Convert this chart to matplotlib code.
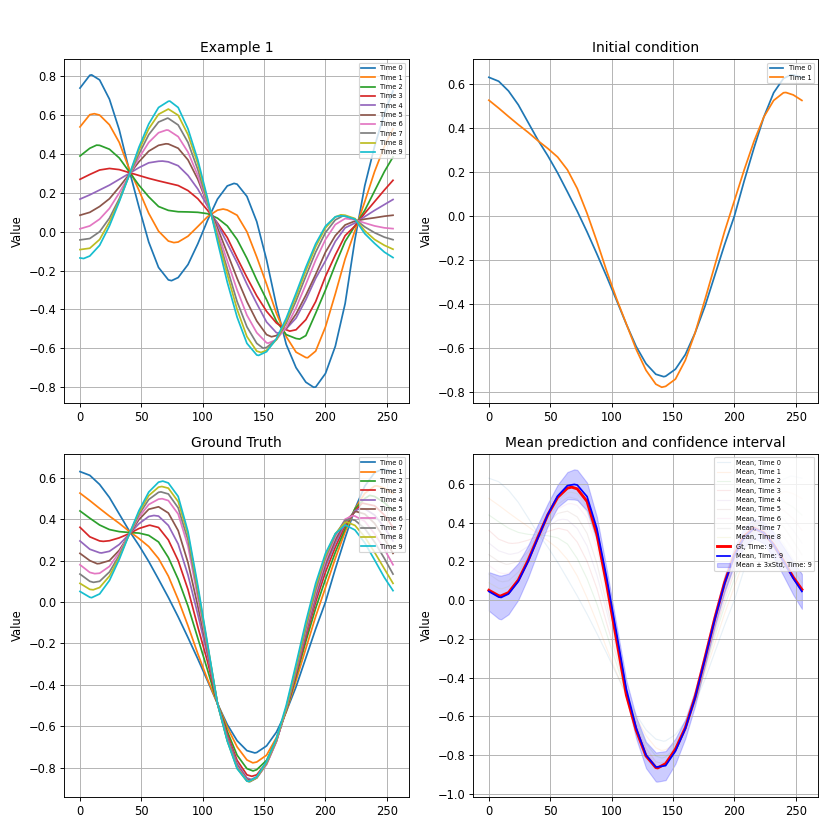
import matplotlib
matplotlib.use('Agg')
import matplotlib.pyplot as plt

# sample positions along the grid (0..255)
x = [0, 8, 16, 24, 32, 40, 48, 56, 64, 72, 80, 88, 96, 104, 112, 120, 128,
     136, 144, 152, 160, 168, 176, 184, 192, 200, 208, 216, 224, 232, 240, 248, 255]

# Example 1, Time 0..9
ex_t0 = [0.74, 0.806, 0.782, 0.683, 0.525, 0.32, 0.128, -0.053, -0.184, -0.248, -0.236, -0.169, -0.062, 0.06, 0.168, 0.236, 0.245,
         0.182, 0.052, -0.145, -0.38, -0.58, -0.70, -0.775, -0.80, -0.73, -0.59, -0.37, -0.04, 0.237, 0.44, 0.61, 0.725]
ex_t1 = [0.54, 0.603, 0.601, 0.551, 0.46, 0.325, 0.214, 0.095, 0.003, -0.048, -0.053, -0.023, 0.027, 0.078, 0.111, 0.112, 0.085,
         0.0, -0.13, -0.27, -0.42, -0.54, -0.62, -0.648, -0.615, -0.49, -0.32, -0.14, 0.005, 0.155, 0.31, 0.44, 0.53]
ex_t2 = [0.39, 0.43, 0.445, 0.425, 0.38, 0.31, 0.24, 0.18, 0.13, 0.11, 0.103, 0.102, 0.10, 0.093, 0.07, 0.03, -0.04,
         -0.137, -0.248, -0.35, -0.46, -0.53, -0.55, -0.535, -0.42, -0.30, -0.17, -0.05, 0.03, 0.11, 0.21, 0.31, 0.385]
ex_t3 = [0.27, 0.295, 0.318, 0.326, 0.32, 0.305, 0.29, 0.275, 0.262, 0.25, 0.238, 0.212, 0.17, 0.11, 0.045, -0.03, -0.135,
         -0.235, -0.33, -0.41, -0.47, -0.505, -0.505, -0.453, -0.36, -0.23, -0.12, -0.02, 0.03, 0.095, 0.155, 0.215, 0.265]
ex_t4 = [0.168, 0.19, 0.215, 0.24, 0.27, 0.30, 0.33, 0.355, 0.363, 0.36, 0.34, 0.29, 0.22, 0.13, 0.04, -0.06, -0.16,
         -0.27, -0.37, -0.465, -0.52, -0.50, -0.445, -0.35, -0.24, -0.15, -0.05, 0.02, 0.045, 0.078, 0.11, 0.14, 0.166]
ex_t5 = [0.085, 0.10, 0.13, 0.17, 0.23, 0.295, 0.36, 0.415, 0.445, 0.452, 0.43, 0.37, 0.27, 0.14, 0.02, -0.11, -0.24,
         -0.36, -0.46, -0.53, -0.535, -0.497, -0.424, -0.327, -0.22, -0.105, -0.02, 0.035, 0.055, 0.065, 0.072, 0.08, 0.085]
ex_t6 = [0.015, 0.03, 0.065, 0.12, 0.20, 0.29, 0.38, 0.46, 0.51, 0.523, 0.49, 0.41, 0.29, 0.14, 0.0, -0.15, -0.30,
         -0.43, -0.52, -0.572, -0.556, -0.492, -0.392, -0.271, -0.146, -0.04, 0.037, 0.068, 0.062, 0.045, 0.03, 0.02, 0.016]
ex_t7 = [-0.042, -0.035, 0.0, 0.07, 0.17, 0.29, 0.40, 0.50, 0.565, 0.584, 0.55, 0.46, 0.32, 0.15, -0.02, -0.19, -0.36,
         -0.49, -0.575, -0.596, -0.555, -0.471, -0.357, -0.229, -0.105, -0.004, 0.061, 0.08, 0.065, 0.025, -0.005, -0.028, -0.041]
ex_t8 = [-0.092, -0.085, -0.04, 0.05, 0.16, 0.29, 0.42, 0.53, 0.605, 0.632, 0.60, 0.50, 0.35, 0.16, -0.03, -0.22, -0.40,
         -0.54, -0.615, -0.611, -0.556, -0.458, -0.335, -0.201, -0.077, 0.02, 0.076, 0.085, 0.068, 0.005, -0.04, -0.07, -0.09]
ex_t9 = [-0.135, -0.125, -0.07, 0.03, 0.155, 0.29, 0.435, 0.555, 0.64, 0.672, 0.64, 0.53, 0.37, 0.17, -0.05, -0.26, -0.44,
         -0.575, -0.635, -0.618, -0.551, -0.446, -0.317, -0.183, -0.062, 0.029, 0.077, 0.08, 0.065, -0.01, -0.06, -0.105, -0.133]

ex_t0_turns = [(9.5, 0.808), (74.6, -0.252), (125.5, 0.249), (190.3, -0.801)]
ex_t1_turns = [(11.7, 0.608), (76.5, -0.056), (116.6, 0.117), (185.5, -0.649)]
ex_t2_turns = [(13.5, 0.446), (179, -0.553)]
ex_t3_turns = [(170.9, -0.512)]
ex_t4_turns = [(67.2, 0.364), (161.4, -0.522)]
ex_t5_turns = [(70, 0.453), (156, -0.541)]
ex_t6_turns = [(70.5, 0.524), (153.3, -0.574)]
ex_t7_turns = [(71.3, 0.585), (149.2, -0.6), (214, 0.081)]
ex_t8_turns = [(147.5, -0.622), (212.5, 0.087)]
ex_t9_turns = [(3, -0.138), (73.2, 0.673), (145.5, -0.637), (212, 0.082)]

# Ground truth, Time 0..9 (Time 0 and 1 are the initial condition)
gt_t0 = [0.63, 0.612, 0.568, 0.505, 0.425, 0.345, 0.274, 0.196, 0.11, 0.022, -0.072, -0.172, -0.275, -0.382, -0.491, -0.592, -0.67,
         -0.718, -0.727, -0.695, -0.629, -0.53, -0.41, -0.27, -0.13, 0.0, 0.16, 0.31, 0.45, 0.56, 0.625, 0.64, 0.63]
gt_t1 = [0.526, 0.49, 0.452, 0.415, 0.38, 0.342, 0.307, 0.268, 0.21, 0.125, 0.012, -0.115, -0.25, -0.375, -0.49, -0.605, -0.70,
         -0.763, -0.773, -0.74, -0.655, -0.53, -0.38, -0.225, -0.07, 0.07, 0.21, 0.34, 0.45, 0.525, 0.56, 0.55, 0.525]
gt_t2 = [0.44, 0.405, 0.372, 0.35, 0.34, 0.336, 0.333, 0.322, 0.29, 0.215, 0.11, -0.02, -0.175, -0.33, -0.49, -0.625, -0.74,
         -0.805, -0.81, -0.765, -0.665, -0.525, -0.36, -0.19, -0.03, 0.11, 0.24, 0.355, 0.45, 0.50, 0.51, 0.48, 0.44]
gt_t3 = [0.361, 0.315, 0.295, 0.296, 0.31, 0.33, 0.355, 0.37, 0.36, 0.30, 0.20, 0.06, -0.12, -0.29, -0.49, -0.64, -0.765,
         -0.835, -0.835, -0.775, -0.67, -0.52, -0.35, -0.17, 0.0, 0.145, 0.265, 0.37, 0.44, 0.475, 0.465, 0.42, 0.361]
gt_t4 = [0.295, 0.255, 0.238, 0.245, 0.278, 0.327, 0.378, 0.413, 0.415, 0.37, 0.28, 0.13, -0.06, -0.26, -0.49, -0.65, -0.78,
         -0.85, -0.845, -0.78, -0.672, -0.518, -0.34, -0.155, 0.02, 0.17, 0.285, 0.38, 0.44, 0.45, 0.42, 0.36, 0.295]
gt_t5 = [0.235, 0.20, 0.186, 0.20, 0.25, 0.325, 0.398, 0.448, 0.46, 0.43, 0.345, 0.19, -0.02, -0.24, -0.49, -0.66, -0.79,
         -0.857, -0.848, -0.782, -0.673, -0.516, -0.335, -0.145, 0.035, 0.185, 0.30, 0.39, 0.435, 0.425, 0.38, 0.305, 0.235]
gt_t6 = [0.18, 0.143, 0.139, 0.172, 0.24, 0.326, 0.41, 0.471, 0.497, 0.49, 0.425, 0.27, 0.02, -0.225, -0.49, -0.665, -0.795,
         -0.861, -0.85, -0.785, -0.675, -0.515, -0.33, -0.135, 0.045, 0.20, 0.315, 0.40, 0.415, 0.39, 0.33, 0.255, 0.18]
gt_t7 = [0.135, 0.10, 0.10, 0.145, 0.226, 0.325, 0.422, 0.495, 0.53, 0.522, 0.455, 0.30, 0.045, -0.215, -0.49, -0.668, -0.80,
         -0.864, -0.85, -0.78, -0.67, -0.512, -0.325, -0.125, 0.06, 0.215, 0.325, 0.395, 0.395, 0.355, 0.29, 0.21, 0.135]
gt_t8 = [0.09, 0.061, 0.07, 0.125, 0.216, 0.326, 0.432, 0.514, 0.555, 0.55, 0.485, 0.325, 0.065, -0.21, -0.49, -0.67, -0.803,
         -0.865, -0.848, -0.775, -0.665, -0.51, -0.315, -0.11, 0.075, 0.225, 0.33, 0.384, 0.37, 0.315, 0.24, 0.16, 0.09]
gt_t9 = [0.051, 0.023, 0.039, 0.104, 0.206, 0.326, 0.441, 0.531, 0.579, 0.575, 0.51, 0.34, 0.08, -0.205, -0.49, -0.672, -0.805,
         -0.865, -0.845, -0.77, -0.66, -0.50, -0.30, -0.095, 0.09, 0.235, 0.33, 0.372, 0.348, 0.286, 0.203, 0.118, 0.055]

# turning points (x, value)
gt_t0_turns = [(142.4, -0.729), (246, 0.641)]
gt_t1_turns = [(140.8, -0.777), (242, 0.561)]
gt_t2_turns = [(141, -0.816), (236, 0.515)]
gt_t3_turns = [(19, 0.293), (57, 0.371), (140, -0.842), (230, 0.478)]
gt_t4_turns = [(17.6, 0.237), (60.2, 0.418), (139.5, -0.857), (228, 0.452)]
gt_t5_turns = [(14, 0.185), (139, -0.862), (225, 0.437)]
gt_t6_turns = [(12, 0.137), (67, 0.499), (138.5, -0.866), (222, 0.417)]
gt_t7_turns = [(11, 0.095), (66, 0.532), (138.5, -0.868), (220, 0.40)]
gt_t8_turns = [(10.8, 0.059), (66.7, 0.558), (138, -0.868), (217.5, 0.386)]
gt_t9_turns = [(9.5, 0.021), (67.5, 0.584), (137.5, -0.867)]

# prediction at Time 9 and 3*std half width
mean_t9 = [0.045, 0.016, 0.032, 0.097, 0.20, 0.322, 0.442, 0.538, 0.592, 0.595, 0.535, 0.37, 0.115, -0.17, -0.46, -0.66, -0.80,
           -0.862, -0.855, -0.78, -0.665, -0.505, -0.305, -0.10, 0.085, 0.23, 0.325, 0.37, 0.348, 0.285, 0.20, 0.112, 0.045]
std3_t9 = [0.10, 0.112, 0.105, 0.095, 0.083, 0.07, 0.058, 0.058, 0.07, 0.078, 0.072, 0.06, 0.045, 0.04, 0.045, 0.055, 0.068,
           0.075, 0.075, 0.065, 0.05, 0.04, 0.035, 0.035, 0.04, 0.045, 0.05, 0.05, 0.055, 0.065, 0.075, 0.085, 0.09]
# turning points of the mean (x, mean, 3*std)
mean_t9_turns = [(10, 0.014, 0.113), (69.6, 0.598, 0.078), (137.2, -0.862, 0.076)]

ex_curves = [(ex_t0, ex_t0_turns), (ex_t1, ex_t1_turns), (ex_t2, ex_t2_turns), (ex_t3, ex_t3_turns),
             (ex_t4, ex_t4_turns), (ex_t5, ex_t5_turns), (ex_t6, ex_t6_turns), (ex_t7, ex_t7_turns),
             (ex_t8, ex_t8_turns), (ex_t9, ex_t9_turns)]
gt_curves = [(gt_t0, gt_t0_turns), (gt_t1, gt_t1_turns), (gt_t2, gt_t2_turns), (gt_t3, gt_t3_turns),
             (gt_t4, gt_t4_turns), (gt_t5, gt_t5_turns), (gt_t6, gt_t6_turns), (gt_t7, gt_t7_turns),
             (gt_t8, gt_t8_turns), (gt_t9, gt_t9_turns)]


def merged(ys, turns):
    # grid samples plus the turning points, in x order
    pts = sorted(list(zip(x, ys)) + list(turns))
    return [p[0] for p in pts], [p[1] for p in pts]


fig, axs = plt.subplots(2, 2, figsize=(10, 10), dpi=83)
fig.subplots_adjust(left=0.0775, right=0.985, top=0.9286, bottom=0.0394, wspace=0.1875, hspace=0.148)

ax = axs[0, 0]
for k, (y, t) in enumerate(ex_curves):
    ax.plot(*merged(y, t), label='Time %d' % k)
ax.set_title('Example 1')
ax.set_ylabel('Value')
ax.grid(True)
ax.legend(loc='upper right', fontsize='xx-small')

ax = axs[0, 1]
for k, (y, t) in enumerate(gt_curves[:2]):
    ax.plot(*merged(y, t), label='Time %d' % k)
ax.set_title('Initial condition')
ax.set_ylabel('Value')
ax.grid(True)
ax.legend(loc='upper right', fontsize='xx-small')

ax = axs[1, 0]
for k, (y, t) in enumerate(gt_curves):
    ax.plot(*merged(y, t), label='Time %d' % k)
ax.set_title('Ground Truth')
ax.set_ylabel('Value')
ax.grid(True)
ax.legend(loc='upper right', fontsize='xx-small')

ax = axs[1, 1]
for k, (y, t) in enumerate(gt_curves[:9]):
    ax.plot(*merged(y, t), alpha=0.1, lw=1, label='Mean, Time %d' % k)
ax.plot(*merged(gt_t9, gt_t9_turns), color='red', lw=2.5, label='Gt, Time: 9')
band = sorted(list(zip(x, mean_t9, std3_t9)) + mean_t9_turns)
bx = [b[0] for b in band]
bm = [b[1] for b in band]
lo = [b[1] - b[2] for b in band]
hi = [b[1] + b[2] for b in band]
ax.plot(bx, bm, color='blue', lw=1.5, label='Mean, Time: 9')
ax.fill_between(bx, lo, hi, color='blue', alpha=0.2, label='Mean \u00b1 3xStd, Time: 9')
ax.set_title('Mean prediction and confidence interval')
ax.set_ylabel('Value')
ax.grid(True)
ax.legend(loc='upper right', fontsize='xx-small')

fig.savefig('out.png', dpi=83)
